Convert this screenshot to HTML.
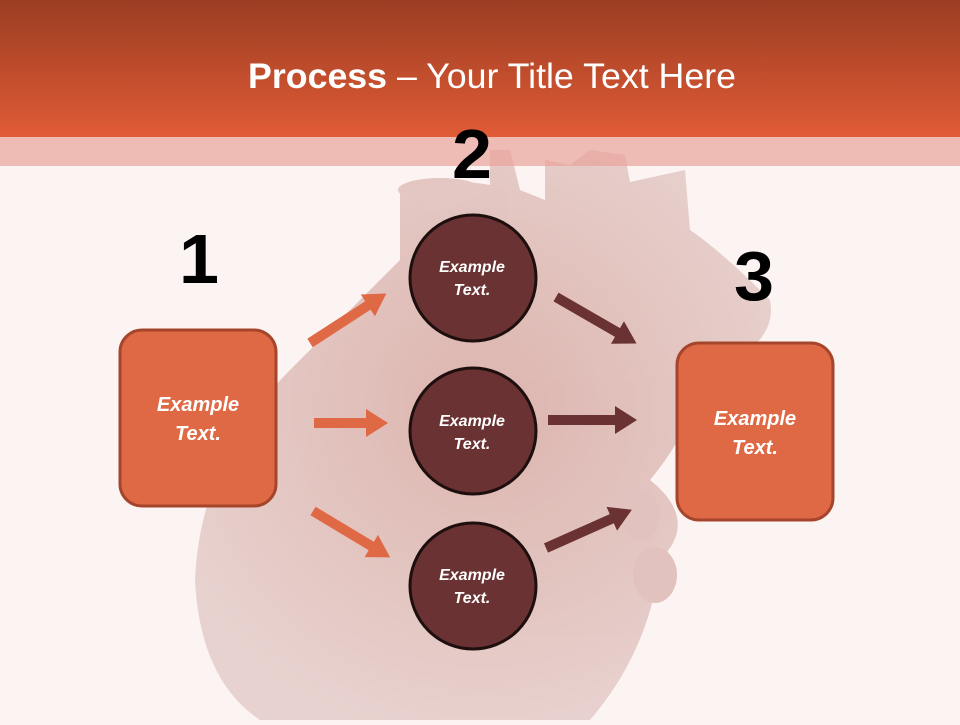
<!DOCTYPE html>
<html><head><style>
body{margin:0;width:960px;height:720px;overflow:hidden;background:#fbf4f3;font-family:"Liberation Sans",sans-serif;}
</style></head><body>
<svg width="960" height="720" viewBox="0 0 960 720" xmlns="http://www.w3.org/2000/svg">
<defs>
<linearGradient id="hd" x1="0" y1="0" x2="0" y2="1">
<stop offset="0" stop-color="#9a3d22"/><stop offset="1" stop-color="#e15b36"/>
</linearGradient>
<radialGradient id="ht" cx="0.5" cy="0.45" r="0.6">
<stop offset="0" stop-color="#c98a80"/><stop offset="1" stop-color="#dbbcb8"/>
</radialGradient>
</defs>
<rect width="960" height="720" fill="#fbf4f3"/>
<g opacity="0.6">
<path d="M400 190 L400 260 Q330 330 290 370 Q200 460 195 580 Q200 680 260 720 L590 720 Q650 650 660 560 Q700 520 650 480 Q700 420 690 380 Q780 350 770 300 Q720 250 690 230 L685 170 L630 182 L625 155 L590 150 L570 165 L545 160 L545 200 L520 190 L510 150 L490 150 L490 185 Q430 175 400 190 Z" fill="url(#ht)"/>
<ellipse cx="440" cy="190" rx="42" ry="12" fill="#d6aaa4"/>
<ellipse cx="640" cy="515" rx="20" ry="25" fill="#d2a29c"/>
<ellipse cx="655" cy="575" rx="22" ry="28" fill="#d2a29c"/>
</g>
<rect x="0" y="0" width="960" height="137" fill="url(#hd)"/>
<rect x="0" y="137" width="960" height="29" fill="#e9a39a" opacity="0.7"/>
<text x="492" y="88" text-anchor="middle" font-size="35" fill="#fff" textLength="488" lengthAdjust="spacingAndGlyphs"><tspan font-weight="bold">Process</tspan> – Your Title Text Here</text>
<g font-size="70" font-weight="bold" fill="#000" text-anchor="middle">
<text x="472" y="178" textLength="40" lengthAdjust="spacingAndGlyphs">2</text>
<text x="199" y="283" textLength="40" lengthAdjust="spacingAndGlyphs">1</text>
<text x="754" y="300" textLength="40" lengthAdjust="spacingAndGlyphs">3</text>
</g>
<rect x="120" y="330" width="156" height="176" rx="22" fill="#e06945" stroke="#a5452b" stroke-width="3"/>
<text x="198" y="411" text-anchor="middle" font-size="20" font-weight="bold" font-style="italic" fill="#fff">Example</text>
<text x="198" y="440" text-anchor="middle" font-size="20" font-weight="bold" font-style="italic" fill="#fff">Text.</text>
<rect x="677" y="343" width="156" height="177" rx="22" fill="#e06945" stroke="#a5452b" stroke-width="3"/>
<text x="755" y="425" text-anchor="middle" font-size="20" font-weight="bold" font-style="italic" fill="#fff">Example</text>
<text x="755" y="454" text-anchor="middle" font-size="20" font-weight="bold" font-style="italic" fill="#fff">Text.</text>
<g stroke="#1e0f0f" stroke-width="3" fill="#6a3232">
<circle cx="473" cy="278" r="63"/>
<circle cx="473" cy="431" r="63"/>
<circle cx="473" cy="586" r="63"/>
</g>
<g font-size="16" font-weight="bold" font-style="italic" fill="#fff" text-anchor="middle">
<text x="472" y="272">Example</text><text x="472" y="295">Text.</text>
<text x="472" y="426">Example</text><text x="472" y="449">Text.</text>
<text x="472" y="580">Example</text><text x="472" y="603">Text.</text>
</g>
<g fill="#e06945">
<path transform="translate(310,343) rotate(-33)" d="M0 -5 L69 -5 L69 -13 L91 0 L69 13 L69 5 L0 5 Z"/>
<path transform="translate(314,423)" d="M0 -5 L52 -5 L52 -14 L74 0 L52 14 L52 5 L0 5 Z"/>
<path transform="translate(313,511) rotate(31)" d="M0 -5 L68 -5 L68 -13 L90 0 L68 13 L68 5 L0 5 Z"/>
</g>
<g fill="#6a3232">
<path transform="translate(556,297) rotate(30)" d="M0 -5 L71 -5 L71 -13 L93 0 L71 13 L71 5 L0 5 Z"/>
<path transform="translate(548,420)" d="M0 -5 L67 -5 L67 -14 L89 0 L67 14 L67 5 L0 5 Z"/>
<path transform="translate(546,548) rotate(-24)" d="M0 -5 L72 -5 L72 -13 L94 0 L72 13 L72 5 L0 5 Z"/>
</g>
</svg>
</body></html>
